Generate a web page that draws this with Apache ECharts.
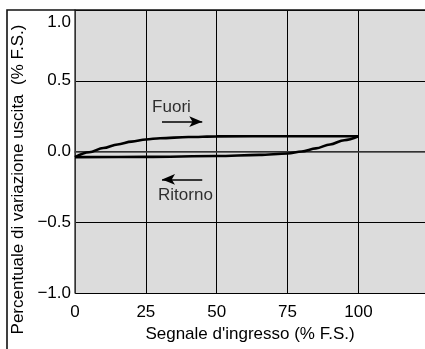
<!DOCTYPE html>
<html><head><meta charset="utf-8">
<script src="https://cdn.jsdelivr.net/npm/echarts@6/dist/echarts.min.js"></script>
<style>html,body{margin:0;padding:0;background:#fff}#c{width:425px;height:349px}</style>
</head><body><div id="c"></div>
<script>
// ---- data ----
const xTickStep = 25;
const yTickStep = 0.5;
const fuoriInput  = [0, 5, 10, 15, 20, 25, 30, 40, 50, 75, 100];
const fuoriOutput = [-0.04, -0.005, 0.025, 0.05, 0.07, 0.085, 0.094, 0.102, 0.107, 0.108, 0.108];
const ritornoInput  = [100, 95, 90, 85, 80, 75, 65, 50, 25, 0];
const ritornoOutput = [0.108, 0.08, 0.05, 0.022, 0.0, -0.014, -0.024, -0.032, -0.038, -0.04];
const annotationTexts = ['Fuori', 'Ritorno'];
const annotationTextX = [27.2, 29.3];
const annotationTextY = [0.313, -0.313];
const arrowFromX = [30.7, 44.9];
const arrowToX   = [44.9, 30.7];
const arrowY     = [0.211, -0.197];
const xAxisTitle = "Segnale d'ingresso (% F.S.)";
const yAxisTitle = "Percentuale di variazione uscita  (% F.S.)";

const FONT = '"Liberation Sans", Arial, Helvetica, sans-serif';
const chart = echarts.init(document.getElementById('c'), null, {renderer: 'canvas'});

const zip = (a, b) => a.map((v, i) => [v, b[i]]);

chart.setOption({
  animation: false,
  backgroundColor: '#fff',
  grid: {left: 75, top: 10, right: 0, bottom: 56, show: true, backgroundColor: '#dcdcdc', borderWidth: 0,
         containLabel: false, outerBoundsMode: 'none'},
  xAxis: {
    type: 'value', min: 0, max: 123.5, interval: xTickStep,
    name: xAxisTitle, nameLocation: 'middle', nameGap: 31,
    nameTextStyle: {fontFamily: FONT, fontSize: 17, color: '#000'},
    axisLine: {show: true, lineStyle: {color: '#444', width: 1.5}},
    axisTick: {show: false},
    axisLabel: {
      fontFamily: FONT, fontSize: 17, color: '#000', margin: 11,
      formatter: v => (v % xTickStep === 0 && v <= 100) ? String(v) : ''
    },
    splitLine: {show: true, lineStyle: {color: '#000', width: 1}}
  },
  yAxis: {
    type: 'value', min: -1, max: 1, interval: yTickStep,
    name: yAxisTitle, nameLocation: 'middle', nameGap: 40,
    nameTextStyle: {fontFamily: FONT, fontSize: 17, color: '#000', padding: [0, 56, 0, 0]},
    axisLine: {show: true, lineStyle: {color: '#444', width: 1.5}},
    axisTick: {show: false},
    axisLabel: {
      fontFamily: FONT, fontSize: 17, color: '#000', margin: 4, lineHeight: 24,
      formatter: v => {
        const s = (v < 0 ? '\u2212' : '') + Math.abs(v).toFixed(1);
        return v === 1 ? '\n' + s : s;
      }
    },
    splitLine: {show: true, lineStyle: {color: '#000', width: 1}}
  },
  graphic: [{
    type: 'polyline', silent: true, z: 100,
    shape: {points: [[7, 349], [7, 10], [425, 10]]},
    style: {stroke: '#111', lineWidth: 1.6, fill: null}
  }],
  series: [
    {
      type: 'line', name: 'Fuori', data: zip(fuoriInput, fuoriOutput),
      showSymbol: false, smooth: 0.35, smoothMonotone: 'x',
      lineStyle: {color: '#000', width: 2.6}, z: 5
    },
    {
      type: 'line', name: 'Ritorno', data: zip(ritornoInput, ritornoOutput),
      showSymbol: false, smooth: 0.35, smoothMonotone: 'x',
      lineStyle: {color: '#000', width: 2.6}, z: 5
    },
    {
      type: 'scatter', symbolSize: 0, silent: true,
      data: annotationTexts.map((t, i) => ({name: t, value: [annotationTextX[i], annotationTextY[i]]})),
      label: {show: true, position: 'right', distance: 0, formatter: p => p.name,
              fontFamily: FONT, fontSize: 17, color: '#000'},
      markLine: {
        silent: true, symbol: ['none', 'arrow'], symbolSize: [8, 13],
        label: {show: false},
        lineStyle: {color: '#000', width: 1.5, type: 'solid'},
        data: arrowY.map((y, i) => [{coord: [arrowFromX[i], y]}, {coord: [arrowToX[i], y]}])
      }
    }
  ]
});
</script></body></html>
